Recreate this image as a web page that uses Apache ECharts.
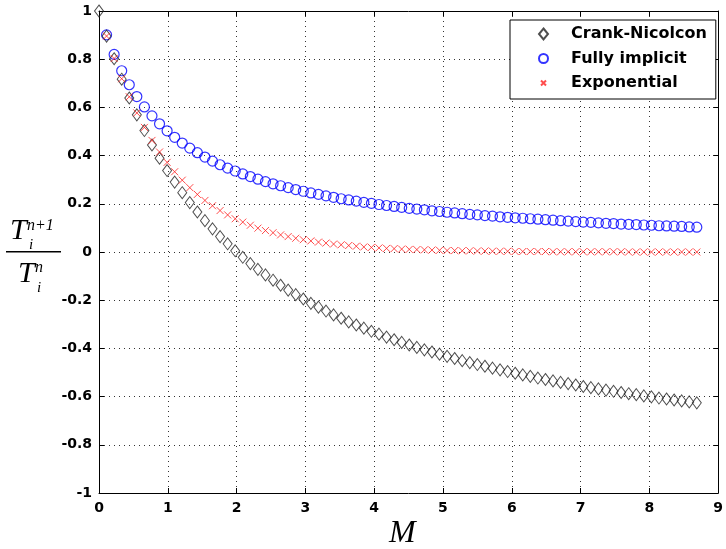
<!DOCTYPE html>
<html>
<head>
<meta charset="utf-8">
<script src="https://cdn.jsdelivr.net/npm/echarts@6/dist/echarts.min.js"></script>
<style>html,body{margin:0;padding:0;background:#fff;}#c{width:726px;height:549px;}</style>
</head>
<body>
<div id="c"></div>
<script>
var mValues = [0,0.11,0.22,0.33,0.44,0.55,0.66,0.77,0.88,0.99,1.1,1.21,1.32,1.43,1.54,1.65,1.76,1.87,1.98,2.09,2.2,2.31,2.42,2.53,2.64,2.75,2.86,2.97,3.08,3.19,3.3,3.41,3.52,3.63,3.74,3.85,3.96,4.07,4.18,4.29,4.4,4.51,4.62,4.73,4.84,4.95,5.06,5.17,5.28,5.39,5.5,5.61,5.72,5.83,5.94,6.05,6.16,6.27,6.38,6.49,6.6,6.71,6.82,6.93,7.04,7.15,7.26,7.37,7.48,7.59,7.7,7.81,7.92,8.03,8.14,8.25,8.36,8.47,8.58,8.69];
var crankNicolcon = [1,0.896,0.802,0.717,0.639,0.569,0.504,0.444,0.389,0.338,0.290,0.246,0.205,0.166,0.130,0.096,0.064,0.034,0.005,-0.022,-0.048,-0.072,-0.095,-0.117,-0.138,-0.158,-0.177,-0.195,-0.213,-0.229,-0.245,-0.261,-0.275,-0.290,-0.303,-0.316,-0.329,-0.341,-0.353,-0.364,-0.375,-0.386,-0.396,-0.406,-0.415,-0.424,-0.433,-0.442,-0.451,-0.459,-0.467,-0.474,-0.482,-0.489,-0.496,-0.503,-0.510,-0.516,-0.523,-0.529,-0.535,-0.541,-0.546,-0.552,-0.558,-0.563,-0.568,-0.573,-0.578,-0.583,-0.588,-0.592,-0.597,-0.601,-0.606,-0.610,-0.614,-0.618,-0.622,-0.626];
var fullyImplicit = [null,0.901,0.820,0.752,0.694,0.645,0.602,0.565,0.532,0.503,0.476,0.452,0.431,0.412,0.394,0.377,0.362,0.348,0.336,0.324,0.313,0.302,0.292,0.283,0.275,0.267,0.259,0.252,0.245,0.239,0.233,0.227,0.221,0.216,0.211,0.206,0.202,0.197,0.193,0.189,0.185,0.181,0.178,0.175,0.171,0.168,0.165,0.162,0.159,0.156,0.154,0.151,0.149,0.146,0.144,0.142,0.140,0.138,0.136,0.134,0.132,0.130,0.128,0.126,0.124,0.123,0.121,0.119,0.118,0.116,0.115,0.114,0.112,0.111,0.109,0.108,0.107,0.106,0.104,0.103];
var exponential = [null,0.896,0.803,0.719,0.644,0.577,0.517,0.463,0.415,0.372,0.333,0.298,0.267,0.239,0.214,0.192,0.172,0.154,0.138,0.124,0.111,0.099,0.089,0.080,0.071,0.064,0.057,0.051,0.046,0.041,0.037,0.033,0.030,0.027,0.024,0.021,0.019,0.017,0.015,0.014,0.012,0.011,0.010,0.009,0.008,0.007,0.006,0.006,0.005,0.005,0.004,0.004,0.003,0.003,0.003,0.002,0.002,0.002,0.002,0.002,0.001,0.001,0.001,0.001,0.001,0.001,0.001,0.001,0.001,0.001,0,0,0,0,0,0,0,0,0,0];
var seriesNames = ['Crank-Nicolcon','Fully implicit','Exponential'];
var xTicks = [0,1,2,3,4,5,6,7,8,9];
var yTicks = [-1,-0.8,-0.6,-0.4,-0.2,0,0.2,0.4,0.6,0.8,1];

function pairs(ys){
  var out=[];
  for(var i=0;i<mValues.length;i++){ if(ys[i]!==null) out.push([mValues[i], ys[i]]); }
  return out;
}

var tickFont = {fontFamily:'DejaVu Sans', fontWeight:'bold', fontSize:14, color:'#000'};
var chart = echarts.init(document.getElementById('c'), null, {renderer:'canvas'});
var xBase = {type:'value', min:xTicks[0], max:xTicks[xTicks.length-1], interval:1,
  axisLine:{show:true,onZero:false,lineStyle:{color:'#000',width:1}},
  axisTick:{show:true,inside:true,length:5,lineStyle:{color:'#000'}}};
var yBase = {type:'value', min:yTicks[0], max:yTicks[yTicks.length-1], interval:0.2,
  axisLine:{show:true,onZero:false,lineStyle:{color:'#000',width:1}},
  axisTick:{show:true,inside:true,length:5,lineStyle:{color:'#000'}}};

var option = {
  backgroundColor:'#fff',
  animation:false,
  grid:{left:99,right:6,top:11,bottom:56,containLabel:false},
  xAxis:[
    Object.assign({}, xBase, {position:'bottom',
      axisLabel:Object.assign({margin:8}, tickFont),
      splitLine:{show:true,lineStyle:{color:'#333',type:[1,4],width:1}}}),
    Object.assign({}, xBase, {position:'top', axisLabel:{show:false}, splitLine:{show:false}})
  ],
  yAxis:[
    Object.assign({}, yBase, {position:'left',
      axisLabel:Object.assign({margin:7}, tickFont),
      splitLine:{show:true,lineStyle:{color:'#333',type:[1,4],width:1}}}),
    Object.assign({}, yBase, {position:'right', axisLabel:{show:false}, splitLine:{show:false}})
  ],
  legend:{
    orient:'vertical', left:510, top:20,
    padding:[6,9,8,28], itemGap:8.5,
    itemWidth:9, itemHeight:11,
    backgroundColor:'#fff', borderColor:'#000', borderWidth:1, borderRadius:0,
    textStyle:{fontFamily:'DejaVu Sans', fontWeight:'bold', fontSize:16, lineHeight:16, color:'#000', padding:[0,0,0,18]},
    data:[
      {name:seriesNames[0]},
      {name:seriesNames[1], icon:'circle'},
      {name:seriesNames[2], icon:'path://M2,2L7,7M7,2L2,7M0,0M9,9'}
    ]
  },
  series:[
    {name:seriesNames[0], type:'scatter', symbol:'diamond', symbolSize:[9,12],
      itemStyle:{color:'rgba(0,0,0,0)', borderColor:'#222', borderWidth:1},
      data:pairs(crankNicolcon), z:3},
    {name:seriesNames[1], type:'scatter', symbol:'circle', symbolSize:10,
      itemStyle:{color:'rgba(0,0,0,0)', borderColor:'#0000ff', borderWidth:1.2},
      data:pairs(fullyImplicit), z:2},
    {name:seriesNames[2], type:'scatter', symbol:'path://M0,0L8,8M8,0L0,8', symbolSize:7,
      itemStyle:{color:'rgba(0,0,0,0)', borderColor:'#ff2020', borderWidth:1},
      data:pairs(exponential), z:4}
  ],
  graphic:[
    {type:'text', left:10, top:216, style:{text:'T', font:'italic 30px "Liberation Serif"', fill:'#000'}},
    {type:'text', left:27, top:218, style:{text:'n+1', font:'italic 16px "Liberation Serif"', fill:'#000'}},
    {type:'text', left:29, top:238, style:{text:'i', font:'italic 15px "Liberation Serif"', fill:'#000'}},
    {type:'rect', shape:{x:6, y:251, width:55, height:1.5}, style:{fill:'#000'}},
    {type:'text', left:18, top:259, style:{text:'T', font:'italic 30px "Liberation Serif"', fill:'#000'}},
    {type:'text', left:35, top:260, style:{text:'n', font:'italic 16px "Liberation Serif"', fill:'#000'}},
    {type:'text', left:37, top:281, style:{text:'i', font:'italic 15px "Liberation Serif"', fill:'#000'}},
    {type:'text', left:389, top:518, style:{text:'M', font:'italic 32px "Liberation Serif"', fill:'#000'}}
  ]
};
chart.setOption(option);
</script>
</body>
</html>
